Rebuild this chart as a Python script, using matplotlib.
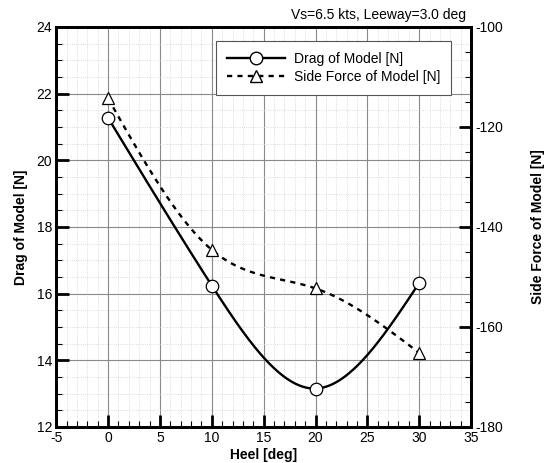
import numpy as np
import matplotlib
matplotlib.use('Agg')
import matplotlib.pyplot as plt
from matplotlib.ticker import MultipleLocator

plt.rcParams['font.family'] = ['Liberation Sans', 'DejaVu Sans']
plt.rcParams['axes.unicode_minus'] = False

# data
heel = [0, 10, 20, 30]
drag = [21.27, 16.24, 13.15, 16.32]
side_force = [-114.3, -144.6, -152.3, -165.2]


def natural_spline(x, y, n=200):
    """natural cubic spline through the points, only for drawing a smooth curve"""
    x = np.asarray(x, float)
    y = np.asarray(y, float)
    k = len(x)
    h = np.diff(x)
    A = np.zeros((k, k))
    b = np.zeros(k)
    A[0, 0] = A[-1, -1] = 1
    for i in range(1, k - 1):
        A[i, i - 1] = h[i - 1]
        A[i, i] = 2 * (h[i - 1] + h[i])
        A[i, i + 1] = h[i]
        b[i] = 6 * ((y[i + 1] - y[i]) / h[i] - (y[i] - y[i - 1]) / h[i - 1])
    M = np.linalg.solve(A, b)
    xs = np.linspace(x[0], x[-1], n)
    idx = np.clip(np.searchsorted(x, xs) - 1, 0, k - 2)
    x0, x1 = x[idx], x[idx + 1]
    hh = x1 - x0
    t0, t1 = x1 - xs, xs - x0
    ys = (M[idx] * t0 ** 3 + M[idx + 1] * t1 ** 3) / (6 * hh) \
        + (y[idx] / hh - M[idx] * hh / 6) * t0 \
        + (y[idx + 1] / hh - M[idx + 1] * hh / 6) * t1
    return xs, ys


fig = plt.figure(figsize=(5.51, 4.63), dpi=100)
ax = fig.add_axes([0.102, 0.078, 0.753, 0.864])
ax2 = ax.twinx()

# grid
ax.set_axisbelow(True)
ax.grid(which='major', color='#8a8a8a', linewidth=0.8, linestyle='-')
ax.grid(which='minor', color='#d0d0d0', linewidth=0.6, linestyle=':')

xs, ys = natural_spline(heel, drag)
ax.plot(xs, ys, color='black', linewidth=1.7)
ax.plot(heel, drag, linestyle='none', marker='o', markersize=9,
        markerfacecolor='white', markeredgecolor='black', markeredgewidth=0.9)

xs2, ys2 = natural_spline(heel, side_force)
ax2.plot(xs2, ys2, color='black', linewidth=1.7, linestyle=(0, (2.2, 2.2)))
ax2.plot(heel, side_force, linestyle='none', marker='^', markersize=8,
         markerfacecolor='white', markeredgecolor='black', markeredgewidth=0.9)

ax.set_xlim(-5, 35)
ax.set_ylim(12, 24)
ax2.set_ylim(-180, -100)

ax.xaxis.set_major_locator(MultipleLocator(5))
ax.xaxis.set_minor_locator(MultipleLocator(1))
ax.yaxis.set_major_locator(MultipleLocator(2))
ax.yaxis.set_minor_locator(MultipleLocator(0.5))
ax2.yaxis.set_major_locator(MultipleLocator(20))
ax2.yaxis.set_minor_locator(MultipleLocator(5))

ax.tick_params(which='major', direction='in', length=9, width=2, labelsize=10, pad=3)
ax.tick_params(which='minor', direction='in', length=4, width=0.8)
ax2.tick_params(which='major', direction='in', length=9, width=2, labelsize=10, pad=3)
ax2.tick_params(which='minor', direction='in', length=4, width=0.8)

for a in (ax, ax2):
    for s in a.spines.values():
        s.set_linewidth(2)

ax.set_xlabel('Heel [deg]', fontsize=10, fontweight='bold', labelpad=2)
ax.set_ylabel('Drag of Model [N]', fontsize=10, fontweight='bold', labelpad=6)
ax2.set_ylabel('Side Force of Model [N]', fontsize=10, fontweight='bold', labelpad=20)

fig.text(0.845, 0.968, 'Vs=6.5 kts, Leeway=3.0 deg', ha='right', va='center', fontsize=10)

h1 = plt.Line2D([], [], color='black', linewidth=1.7, marker='o', markersize=9,
                markerfacecolor='white', markeredgecolor='black')
h2 = plt.Line2D([], [], color='black', linewidth=1.7, linestyle=(0, (2.2, 2.2)),
                marker='^', markersize=8, markerfacecolor='white', markeredgecolor='black')
leg = ax2.legend([h1, h2], ['Drag of Model [N]', 'Side Force of Model [N]'],
                 loc='upper right', bbox_to_anchor=(0.952, 0.965), fontsize=10,
                 handlelength=4.2, handletextpad=0.6, fancybox=False, framealpha=1,
                 edgecolor='#555555', borderpad=0.8, labelspacing=0.3,
                 borderaxespad=0)
leg.get_frame().set_linewidth(0.8)

fig.savefig('out.png', dpi=100)
